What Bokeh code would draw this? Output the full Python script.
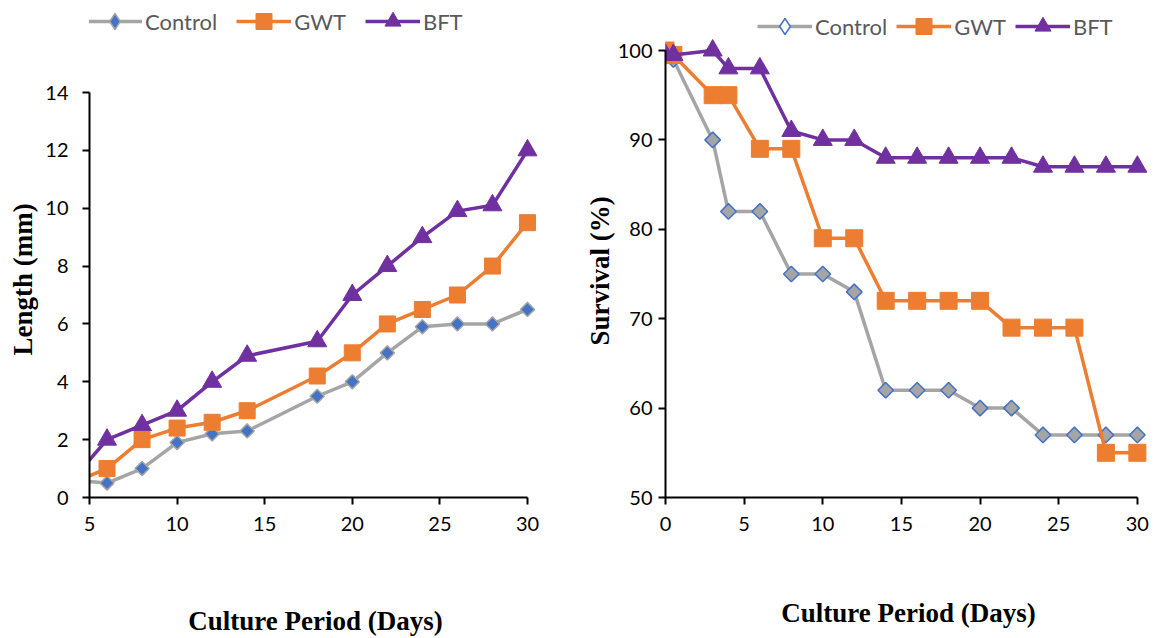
import numpy as np
from bokeh.plotting import figure
from bokeh.layouts import row
from bokeh.models import Legend, LegendItem, FixedTicker, Range1d, Title
from bokeh.embed import file_html
from bokeh.resources import INLINE

# ---------------- data ----------------
days_len = [4, 6, 8, 10, 12, 14, 18, 20, 22, 24, 26, 28, 30]
len_control = [0.6, 0.5, 1.0, 1.9, 2.2, 2.3, 3.5, 4.0, 5.0, 5.9, 6.0, 6.0, 6.5]
len_gwt = [0.5, 1.0, 2.0, 2.4, 2.6, 3.0, 4.2, 5.0, 6.0, 6.5, 7.0, 8.0, 9.5]
len_bft = [0.6, 2.0, 2.5, 3.0, 4.0, 4.9, 5.4, 7.0, 8.0, 9.0, 9.9, 10.1, 12.0]

days_surv = [0, 0.5, 3, 4, 6, 8, 10, 12, 14, 16, 18, 20, 22, 24, 26, 28, 30]
surv_control = [100, 99, 90, 82, 82, 75, 75, 73, 62, 62, 62, 60, 60, 57, 57, 57, 57]
surv_gwt = [100, 99.5, 95, 95, 89, 89, 79, 79, 72, 72, 72, 72, 69, 69, 69, 55, 55]
surv_bft = [99.5, 99.5, 100, 98, 98, 91, 90, 90, 88, 88, 88, 88, 88, 87, 87, 87, 87]

series_names = ["Control", "GWT", "BFT"]
len_ticks_x = [5, 10, 15, 20, 25, 30]
len_ticks_y = [0, 2, 4, 6, 8, 10, 12, 14]
surv_ticks_x = [0, 5, 10, 15, 20, 25, 30]
surv_ticks_y = [50, 60, 70, 80, 90, 100]

GRAY = "#A5A5A5"
ORANGE = "#ED7D31"
PURPLE = "#7030A0"
BLUE = "#4472C4"
TICK_FONT = "Lato"
TITLE_FONT = "Liberation Serif"

FRAME_BOTTOM = 497  # screen y of both x axes
H = 638


def style_axes(p, xticks, yticks, xbounds, ybounds):
    for ax in p.xaxis + p.yaxis:
        ax.axis_line_color = "black"
        ax.axis_line_width = 2
        ax.major_tick_line_color = "black"
        ax.major_tick_line_width = 2
        ax.major_tick_in = 0
        ax.major_tick_out = 7
        ax.minor_tick_line_color = None
        ax.major_label_text_font = TICK_FONT
        ax.major_label_text_font_size = "20px"
        ax.major_label_text_color = "black"
        ax.axis_label_text_font = TITLE_FONT
        ax.axis_label_text_font_style = "bold"
        ax.axis_label_text_color = "black"
        ax.axis_label_text_font_size = "27px"
    p.xaxis.ticker = FixedTicker(ticks=xticks)
    p.yaxis.ticker = FixedTicker(ticks=yticks)
    p.xaxis.bounds = xbounds
    p.yaxis.bounds = ybounds
    p.xgrid.grid_line_color = None
    p.ygrid.grid_line_color = None
    p.outline_line_color = None
    p.background_fill_color = "white"
    p.border_fill_color = "white"


def y_title(p, text, offset, standoff):
    t = Title(text=text, align="left", offset=offset, standoff=standoff,
              text_font=TITLE_FONT, text_font_style="bold",
              text_font_size="27px", text_color="black")
    p.add_layout(t, "left")


def make_legend(items, x, y, spacing):
    return Legend(items=items, orientation="horizontal", location=(x, y),
                  label_text_font=TICK_FONT, label_text_font_size="22px",
                  label_text_color="#595959", glyph_width=55, glyph_height=40,
                  label_standoff=3, spacing=spacing, padding=0, margin=0,
                  border_line_color=None, background_fill_alpha=0)


# ---------------- left: length ----------------
# y: 0 at screen 497, 14 at screen 92 -> frame extends to screen top
len_top = 14 * FRAME_BOTTOM / (FRAME_BOTTOM - 92)
p1 = figure(width=580, height=H, output_backend="svg", toolbar_location=None,
            x_range=Range1d(5, 30.8), y_range=Range1d(0, len_top),
            min_border_left=89, min_border_right=580 - 541, min_border_top=0,
            min_border_bottom=H - FRAME_BOTTOM)
style_axes(p1, len_ticks_x, len_ticks_y, (5, 30), (0, 14))
p1.yaxis.major_label_standoff = 14
p1.xaxis.axis_label = "Culture Period (Days)"
p1.xaxis.major_label_standoff = 12
p1.xaxis.axis_label_standoff = 72
y_title(p1, "Length (mm)", FRAME_BOTTOM - 355, 10)

l_c = p1.line(days_len, len_control, line_color=GRAY, line_width=3.5)
h_c = p1.scatter(days_len, len_control, marker="diamond", size=11,
                 fill_color=BLUE, line_color=GRAY, line_width=1.5)
s_c = p1.scatter(days_len, len_control, marker="square", angle=np.pi / 4, size=10,
                 fill_color=BLUE, line_color=GRAY, line_width=1.5)
l_g = p1.line(days_len, len_gwt, line_color=ORANGE, line_width=3.5)
s_g = p1.scatter(days_len, len_gwt, marker="square", size=16,
                 fill_color=ORANGE, line_color=ORANGE)
l_b = p1.line(days_len, len_bft, line_color=PURPLE, line_width=3.5)
s_b = p1.scatter(days_len, len_bft, marker="triangle", size=19,
                 fill_color=PURPLE, line_color=PURPLE)

leg1 = make_legend([LegendItem(label=series_names[0], renderers=[l_c, h_c]),
                    LegendItem(label=series_names[1], renderers=[l_g, s_g]),
                    LegendItem(label=series_names[2], renderers=[l_b, s_b])],
                   -2, FRAME_BOTTOM - 41, 19)
p1.add_layout(leg1)

# ---------------- right: survival ----------------
# y: 50 at screen 497, 100 at screen 50
px_per = (FRAME_BOTTOM - 50) / 50.0
surv_top = 100 + 50 / px_per
p2 = figure(width=579, height=H, output_backend="svg", toolbar_location=None,
            x_range=Range1d(0, 30.9), y_range=Range1d(50, surv_top),
            min_border_left=85, min_border_right=8, min_border_top=0,
            min_border_bottom=H - FRAME_BOTTOM)
style_axes(p2, surv_ticks_x, surv_ticks_y, (0, 30), (50, 100))
p2.yaxis.major_label_standoff = 6
p2.xaxis.axis_label = "Culture Period (Days)"
p2.xaxis.major_label_standoff = 12
p2.xaxis.axis_label_standoff = 64
y_title(p2, "Survival (%)", FRAME_BOTTOM - 345, 0)

r_lc = p2.line(days_surv, surv_control, line_color=GRAY, line_width=3.5)
r_hollow = p2.scatter(days_surv, surv_control, marker="diamond", size=12,
                      fill_color="white", line_color=BLUE, line_width=1.5)
r_sc = p2.scatter(days_surv, surv_control, marker="square", angle=np.pi / 4, size=11,
                  fill_color=GRAY, line_color=BLUE, line_width=1.5)
r_lg = p2.line(days_surv, surv_gwt, line_color=ORANGE, line_width=3.5)
r_sg = p2.scatter(days_surv, surv_gwt, marker="square", size=17,
                  fill_color=ORANGE, line_color=ORANGE)
r_lb = p2.line(days_surv, surv_bft, line_color=PURPLE, line_width=3.5)
r_sb = p2.scatter(days_surv, surv_bft, marker="triangle", size=19,
                  fill_color=PURPLE, line_color=PURPLE)

leg2 = make_legend([LegendItem(label=series_names[0], renderers=[r_lc, r_hollow]),
                    LegendItem(label=series_names[1], renderers=[r_lg, r_sg]),
                    LegendItem(label=series_names[2], renderers=[r_lb, r_sb])],
                   92, FRAME_BOTTOM - 46, 9)
p2.add_layout(leg2)

layout = row(p1, p2)
open("out.html", "w").write(file_html(layout, INLINE))
